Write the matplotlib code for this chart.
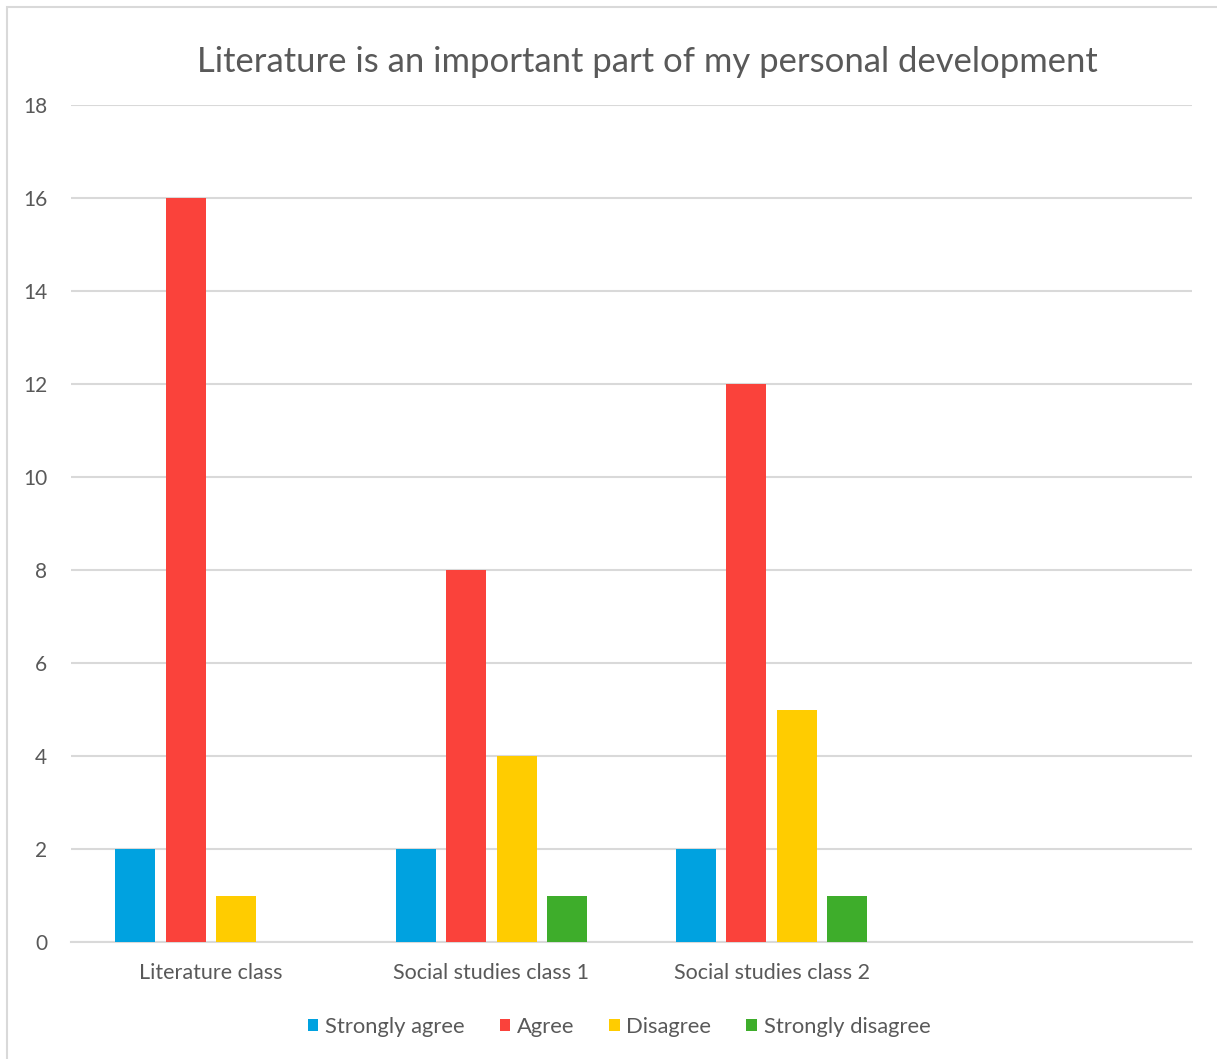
import matplotlib
matplotlib.use('Agg')

import matplotlib.pyplot as plt
from matplotlib.patches import Rectangle
import numpy as np

categories = ["Literature class", "Social studies class 1", "Social studies class 2", ""]
series = ["Strongly agree", "Agree", "Disagree", "Strongly disagree"]
strongly_agree = [2, 2, 2, 0]
agree = [16, 8, 12, 0]
disagree = [1, 4, 5, 0]
strongly_disagree = [0, 1, 1, 0]
colors = ["#00A2E0", "#FA423B", "#FFCC00", "#3EAD2B"]

plt.rcParams['font.family'] = ['Lato', 'DejaVu Sans']
text_gray = "#595959"
grid_gray = "#D9D9D9"

W, H = 1217, 1059
fig = plt.figure(figsize=(W / 100, H / 100), dpi=100)

# chart border (left and top edges visible)
fig.patches.append(Rectangle((7 / W, -0.1), 1.2, 1.1 - 7 / H, transform=fig.transFigure,
                             fill=False, edgecolor=grid_gray, linewidth=1.5))

ax = fig.add_axes([71 / W, 1 - 942 / H, (1192 - 71) / W, (942 - 105) / H])

x = np.arange(len(categories))
step = 0.18
width = 0.143
values = [strongly_agree, agree, disagree, strongly_disagree]
for i, (name, vals, c) in enumerate(zip(series, values, colors)):
    ax.bar(x + (i - 1.5) * step, vals, width, color=c, label=name, zorder=3)

ax.set_xlim(-0.5, len(categories) - 0.5)
ax.set_ylim(0, 18)
ax.set_yticks(np.arange(0, 19, 2))
ax.set_xticks(x)
ax.set_xticklabels(categories)
ax.tick_params(axis='both', length=0, colors=text_gray)
ax.tick_params(axis='y', pad=17, labelsize=15)
ax.tick_params(axis='x', pad=15, labelsize=15.5)
ax.grid(axis='y', color=grid_gray, linewidth=1.5, zorder=0)
for s in ['top', 'right', 'left']:
    ax.spines[s].set_visible(False)
ax.spines['bottom'].set_color(grid_gray)
ax.spines['bottom'].set_linewidth(1.5)

fig.text(647 / W, 1 - 62 / H, "Literature is an important part of my personal development",
         ha='center', va='center', fontsize=24.9, color=text_gray)

leg = fig.legend(loc='center', bbox_to_anchor=(619 / W, 1 - 1027 / H), ncol=4,
                 frameon=False, fontsize=15.8, handlelength=0.48, handleheight=0.48,
                 handletextpad=0.3, columnspacing=1.6)
for t in leg.get_texts():
    t.set_color(text_gray)

fig.savefig("out.png", dpi=100)
